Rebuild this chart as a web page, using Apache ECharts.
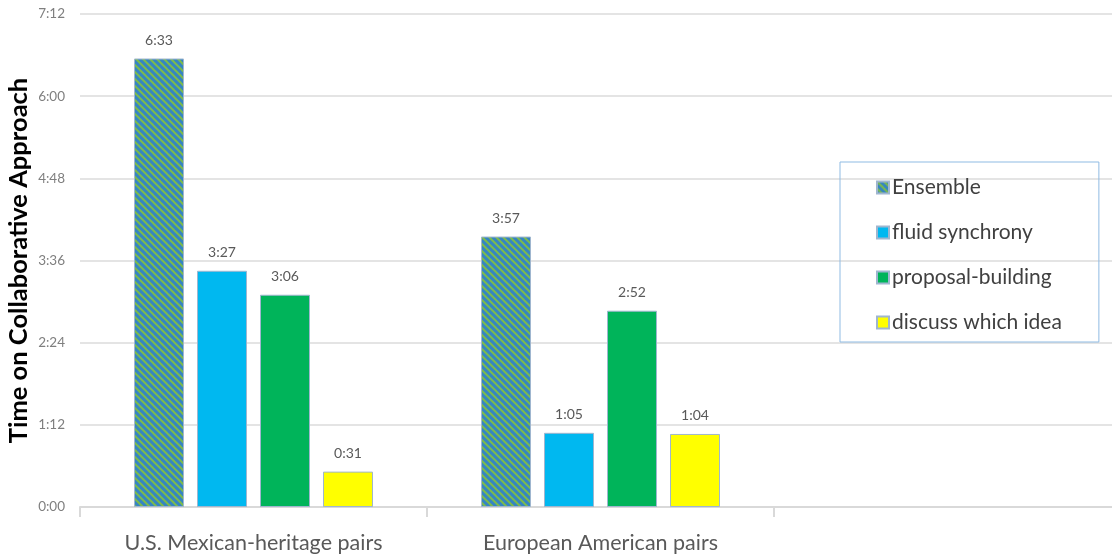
<!DOCTYPE html>
<html>
<head>
<meta charset="utf-8">
<script src="https://cdn.jsdelivr.net/npm/echarts@6/dist/echarts.min.js"></script>
<style>html,body{margin:0;padding:0;background:#fff;}#c{width:1112px;height:557px;}</style>
</head>
<body>
<div id="c"></div>
<script>
// Data (seconds)
var categories = ['U.S. Mexican-heritage pairs', 'European American pairs', ''];
var seriesNames = ['Ensemble', 'fluid synchrony', 'proposal-building', 'discuss which idea'];
var ensemble = [393, 237, null];   // 6:33, 3:57
var fluid = [207, 65, null];       // 3:27, 1:05
var proposal = [186, 172, null];   // 3:06, 2:52
var discuss = [31, 64, null];      // 0:31, 1:04
var yMin = 0, yMax = 432, yInterval = 72; // 0:00 .. 7:12 step 1:12

function fmt(v) {
  var m = Math.floor(v / 60), s = Math.round(v % 60);
  return m + ':' + (s < 10 ? '0' + s : s);
}

function stripePattern() {
  var s = 7;
  var c = document.createElement('canvas');
  c.width = s; c.height = s;
  var ctx = c.getContext('2d');
  ctx.fillStyle = '#3585c3';
  ctx.fillRect(0, 0, s, s);
  ctx.strokeStyle = '#7dbb4c';
  ctx.lineWidth = 2;
  [-s, 0, s].forEach(function (k) {
    ctx.beginPath();
    ctx.moveTo(k - 1, -1);
    ctx.lineTo(k + s + 1, s + 1);
    ctx.stroke();
  });
  return { image: c, repeat: 'repeat' };
}

var font = 'Lato, "Open Sans", sans-serif';
var colors = [stripePattern(), '#00b8f0', '#00b45a', '#ffff00'];
var datas = [ensemble, fluid, proposal, discuss];

var series = datas.map(function (d, i) {
  return {
    name: seriesNames[i],
    type: 'bar',
    data: d,
    barWidth: 50,
    barGap: '26%',
    itemStyle: { color: colors[i], borderColor: '#9fb6cf', borderWidth: 1 },
    label: {
      show: true, position: 'top', distance: 11,
      color: '#595959', fontSize: 14, fontFamily: font,
      formatter: function (p) { return p.value == null ? '' : fmt(p.value); }
    }
  };
});

var chart = echarts.init(document.getElementById('c'), null, { renderer: 'canvas' });
chart.setOption({
  animation: false,
  backgroundColor: '#ffffff',
  grid: { left: 80, top: 14, bottom: 50, right: -9, containLabel: false, outerBoundsMode: 'none' },
  legend: {
    orient: 'vertical',
    left: 840, top: 162,
    data: seriesNames,
    itemWidth: 12, itemHeight: 12, itemGap: 24,
    padding: [15, 37, 9, 36],
    borderColor: '#8fbbe3', borderWidth: 1,
    textStyle: { fontSize: 21, color: '#404040', fontFamily: font, padding: [0, 0, 0, -2] },
    icon: 'rect'
  },
  xAxis: {
    type: 'category',
    data: categories,
    axisLine: { lineStyle: { color: '#d9d9d9', width: 2 } },
    axisTick: { show: true, length: 10, lineStyle: { color: '#d9d9d9', width: 2 } },
    axisLabel: { color: '#595959', fontSize: 21.5, fontFamily: font, margin: 25 }
  },
  yAxis: {
    type: 'value',
    min: yMin, max: yMax, interval: yInterval,
    name: 'Time on Collaborative Approach',
    nameLocation: 'middle', nameGap: 48, nameMoveOverlap: false,
    nameTextStyle: { fontSize: 25.5, fontWeight: 'bold', color: '#000', fontFamily: font },
    axisLine: { show: false },
    axisTick: { show: false },
    axisLabel: { color: '#7f7f7f', fontSize: 13.5, fontFamily: font, margin: 15, formatter: fmt },
    splitLine: { lineStyle: { color: '#e4e4e4', width: 2 } }
  },
  series: series
});
</script>
</body>
</html>
